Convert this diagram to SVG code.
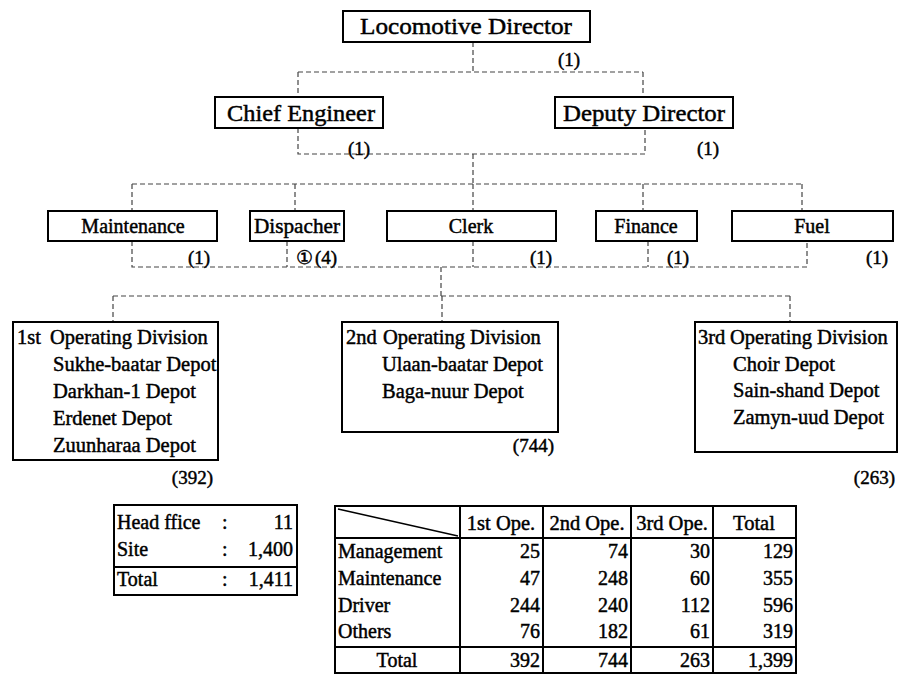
<svg xmlns="http://www.w3.org/2000/svg" width="898" height="675" viewBox="0 0 898 675">
  <style>
    text { font-family: "Liberation Serif", "Times New Roman", serif; fill: #000; stroke: #000; stroke-width: 0.45; }
    .t23 { font-size: 23px; }
    .t21 { font-size: 20.5px; }
    .t20 { font-size: 20px; }
    .t19 { font-size: 19px; }
    .mid { text-anchor: middle; }
    .end { text-anchor: end; }
    .box { fill: #fff; stroke: #000; stroke-width: 2; }
    .conn { fill: none; stroke: #444; stroke-width: 1.2; stroke-dasharray: 5 3; }
    .rule { stroke: #000; stroke-width: 2; }
    .thin { stroke: #000; stroke-width: 1.3; }
  </style>

  <!-- connectors -->
  <g id="connectors">
    <path class="conn" d="M473 42 V72 M298 72 H643 M298 72 V97 M643 72 V97"/>
    <path class="conn" d="M298 128 V154 H645 V128 M473 154 V184"/>
    <path class="conn" d="M132 184 H802 M132 184 V211 M295 184 V211 M473 184 V211 M643 184 V211 M802 184 V211"/>
    <path class="conn" d="M132 241 V267 H807 V241 M287 241 V267 M473 241 V267 M648 241 V267"/>
    <path class="conn" d="M441 267 V296 M113 296 H790 M113 296 V322 M442 296 V322 M790 296 V322"/>
  </g>

  <!-- top level -->
  <g id="director">
    <rect class="box" x="343" y="11" width="247" height="31"/>
    <text class="t23 mid" x="466" y="34" textLength="212" lengthAdjust="spacingAndGlyphs">Locomotive Director</text>
    <text class="t19" x="558" y="66">(1)</text>
  </g>

  <g id="chief-engineer">
    <rect class="box" x="215" y="97" width="168" height="31"/>
    <text class="t23 mid" x="301" y="121" textLength="148" lengthAdjust="spacingAndGlyphs">Chief Engineer</text>
    <text class="t19" x="348" y="155">(1)</text>
  </g>

  <g id="deputy-director">
    <rect class="box" x="555" y="97" width="178" height="31"/>
    <text class="t23 mid" x="644" y="121" textLength="162" lengthAdjust="spacingAndGlyphs">Deputy Director</text>
    <text class="t19" x="697" y="155">(1)</text>
  </g>

  <!-- sections -->
  <g id="maintenance">
    <rect class="box" x="48" y="211" width="169" height="30"/>
    <text class="t20 mid" x="133" y="233">Maintenance</text>
    <text class="t19" x="188" y="264">(1)</text>
  </g>

  <g id="dispacher">
    <rect class="box" x="250" y="211" width="94" height="30"/>
    <text class="t20 mid" x="297" y="233" textLength="86" lengthAdjust="spacingAndGlyphs">Dispacher</text>
    <text class="t19" x="296" y="264">①</text>
    <text class="t19" x="315" y="264">(4)</text>
  </g>

  <g id="clerk">
    <rect class="box" x="387" y="211" width="169" height="30"/>
    <text class="t20 mid" x="471" y="233">Clerk</text>
    <text class="t19" x="530" y="264">(1)</text>
  </g>

  <g id="finance">
    <rect class="box" x="596" y="211" width="101" height="30"/>
    <text class="t20 mid" x="646" y="233">Finance</text>
    <text class="t19" x="667" y="264">(1)</text>
  </g>

  <g id="fuel">
    <rect class="box" x="732" y="211" width="161" height="30"/>
    <text class="t20 mid" x="812" y="233">Fuel</text>
    <text class="t19" x="866" y="264">(1)</text>
  </g>

  <!-- operating divisions -->
  <g id="division-1">
    <rect class="box" x="13" y="322" width="205" height="138"/>
    <text class="t21" x="17" y="344">1st</text>
    <text class="t21" x="50" y="344">Operating Division</text>
    <text class="t21" x="53" y="371">Sukhe-baatar Depot</text>
    <text class="t21" x="53" y="398">Darkhan-1 Depot</text>
    <text class="t21" x="53" y="425">Erdenet Depot</text>
    <text class="t21" x="53" y="452">Zuunharaa Depot</text>
    <text class="t19 end" x="213" y="484">(392)</text>
  </g>

  <g id="division-2">
    <rect class="box" x="342" y="322" width="216" height="110"/>
    <text class="t21" x="346" y="344">2nd</text>
    <text class="t21" x="383" y="344">Operating Division</text>
    <text class="t21" x="382" y="371">Ulaan-baatar Depot</text>
    <text class="t21" x="382" y="398">Baga-nuur Depot</text>
    <text class="t19 end" x="554" y="452">(744)</text>
  </g>

  <g id="division-3">
    <rect class="box" x="695" y="322" width="202" height="130"/>
    <text class="t21" x="698" y="344">3rd</text>
    <text class="t21" x="730" y="344">Operating Division</text>
    <text class="t21" x="733" y="371">Choir Depot</text>
    <text class="t21" x="733" y="397">Sain-shand Depot</text>
    <text class="t21" x="733" y="424">Zamyn-uud Depot</text>
    <text class="t19 end" x="895" y="484">(263)</text>
  </g>

  <!-- staff summary -->
  <g id="summary">
    <rect class="box" x="114" y="505" width="183" height="90"/>
    <line class="rule" x1="114" y1="567" x2="297" y2="567"/>
    <text class="t20" x="117" y="529">Head ffice</text>
    <text class="t20" x="222" y="529">:</text>
    <text class="t20 end" x="293" y="529">11</text>
    <text class="t20" x="117" y="556">Site</text>
    <text class="t20" x="222" y="556">:</text>
    <text class="t20 end" x="293" y="556">1,400</text>
    <text class="t20" x="117" y="586">Total</text>
    <text class="t20" x="222" y="586">:</text>
    <text class="t20 end" x="293" y="586">1,411</text>
  </g>

  <!-- staff by division -->
  <g id="staff-table">
    <rect class="box" x="335" y="506" width="461" height="167"/>
    <line class="rule" x1="335" y1="538" x2="796" y2="538"/>
    <line class="rule" x1="335" y1="647" x2="796" y2="647"/>
    <line class="rule" x1="460" y1="506" x2="460" y2="673"/>
    <line class="rule" x1="543" y1="506" x2="543" y2="673"/>
    <line class="rule" x1="631" y1="506" x2="631" y2="673"/>
    <line class="rule" x1="713" y1="506" x2="713" y2="673"/>
    <line class="thin" x1="338" y1="509" x2="458" y2="536"/>

    <text class="t21 mid" x="501" y="530">1st Ope.</text>
    <text class="t21 mid" x="587" y="530">2nd Ope.</text>
    <text class="t21 mid" x="672" y="530">3rd Ope.</text>
    <text class="t21 mid" x="754" y="530">Total</text>

    <text class="t20" x="338" y="558">Management</text>
    <text class="t20 end" x="540" y="558">25</text>
    <text class="t20 end" x="628" y="558">74</text>
    <text class="t20 end" x="710" y="558">30</text>
    <text class="t20 end" x="793" y="558">129</text>

    <text class="t20" x="338" y="585">Maintenance</text>
    <text class="t20 end" x="540" y="585">47</text>
    <text class="t20 end" x="628" y="585">248</text>
    <text class="t20 end" x="710" y="585">60</text>
    <text class="t20 end" x="793" y="585">355</text>

    <text class="t20" x="338" y="612">Driver</text>
    <text class="t20 end" x="540" y="612">244</text>
    <text class="t20 end" x="628" y="612">240</text>
    <text class="t20 end" x="710" y="612">112</text>
    <text class="t20 end" x="793" y="612">596</text>

    <text class="t20" x="338" y="638">Others</text>
    <text class="t20 end" x="540" y="638">76</text>
    <text class="t20 end" x="628" y="638">182</text>
    <text class="t20 end" x="710" y="638">61</text>
    <text class="t20 end" x="793" y="638">319</text>

    <text class="t20 mid" x="397" y="667">Total</text>
    <text class="t20 end" x="540" y="667">392</text>
    <text class="t20 end" x="628" y="667">744</text>
    <text class="t20 end" x="710" y="667">263</text>
    <text class="t20 end" x="793" y="667">1,399</text>
  </g>
</svg>
